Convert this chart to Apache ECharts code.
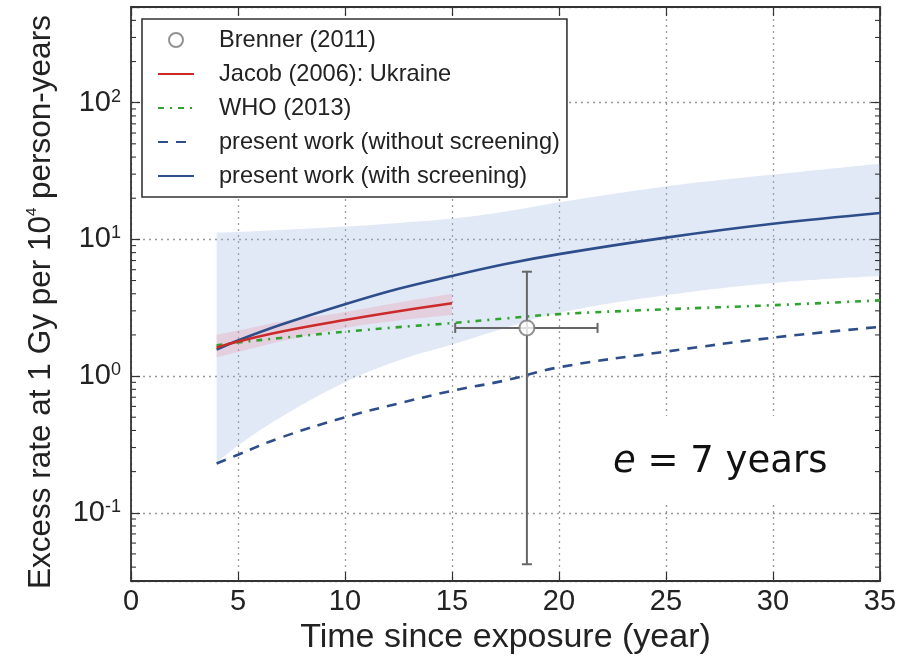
<!DOCTYPE html>
<html><head><meta charset="utf-8">
<script src="https://cdn.jsdelivr.net/npm/echarts@6/dist/echarts.min.js"></script>
<style>html,body{margin:0;padding:0;background:#fff}#c{width:910px;height:660px}</style>
</head><body><div id="c"></div>
<script>
const years = [4, 5, 7, 10, 12.5, 15, 17.5, 20, 25, 30, 35];
const withScreening = [1.56, 1.82, 2.37, 3.35, 4.35, 5.4, 6.6, 7.8, 10.3, 13.0, 15.6];
const withScreeningLo = [0.23, 0.31, 0.5, 0.9, 1.3, 1.7, 2.25, 2.9, 3.9, 4.8, 5.4];
const withScreeningHi = [11.2, 11.3, 11.7, 12.4, 13.2, 14.2, 16.0, 18.7, 24.4, 29.8, 35.8];
const withoutScreening = [0.229, 0.266, 0.355, 0.50, 0.63, 0.78, 0.93, 1.16, 1.51, 1.91, 2.29];
const who = [1.68, 1.76, 1.9, 2.11, 2.28, 2.44, 2.64, 2.84, 3.08, 3.30, 3.58];
const jacobYears = [4, 5, 7, 10, 12.5, 15];
const jacob = [1.62, 1.79, 2.11, 2.57, 2.98, 3.41];
const jacobLo = [1.37, 1.5, 1.8, 2.25, 2.55, 2.8];
const jacobHi = [2.0, 2.15, 2.5, 2.94, 3.45, 4.0];
const brenner = [18.5, 2.25];
const brennerX = [15.15, 21.8];
const brennerY = [0.042, 5.8];
const minorFactors = [2, 3, 4, 5, 6, 7, 8, 9];
const yMinLog = -1.5, yMaxLog = 2.7;

const L = Math.log10;
const pts = (xs, ys) => xs.map((x, i) => [x, L(ys[i])]);
// band data: [logValue, x] so that stacking happens on the value dimension
const bandLo = (xs, lo) => xs.map((x, i) => [L(lo[i]), x]);
const bandDiff = (xs, lo, hi) => xs.map((x, i) => [L(hi[i]) - L(lo[i]), x]);

const minorTicks = [];
for (let d = -2; d <= 2; d++) for (const k of minorFactors) {
  const v = L(k) + d;
  if (v > yMinLog && v < yMaxLog) minorTicks.push([0, v]);
}

const FONT = 'Liberation Sans, Arial, sans-serif';
const axisCommon = {
  axisLine: {show: true, onZero: false, lineStyle: {color: '#333', width: 1.8}},
  axisTick: {show: true, inside: true, length: 9, lineStyle: {color: '#333', width: 1.2}},
};
const gridLine = {show: true, lineStyle: {type: [2, 4], color: '#999', width: 1.3}};
const hideSym = {color: 'transparent', borderColor: 'transparent', opacity: 0};
const SM = 0.4;

const chart = echarts.init(document.getElementById('c'));
chart.setOption({
  animation: false,
  backgroundColor: '#fff',
  grid: {left: 131, right: 30, top: 7, bottom: 69, containLabel: false},
  xAxis: [{
    type: 'value', min: 0, max: 35, interval: 5, position: 'bottom',
    ...axisCommon,
    axisLabel: {fontSize: 29, color: '#222', fontFamily: FONT, margin: 6},
    splitLine: gridLine,
    name: 'Time since exposure (year)', nameLocation: 'middle', nameGap: 29,
    nameTextStyle: {fontSize: 34, color: '#222', fontFamily: FONT}
  }, {
    type: 'value', min: 0, max: 35, interval: 5, position: 'top',
    ...axisCommon, axisLabel: {show: false}, splitLine: {show: false}
  }],
  yAxis: [{
    type: 'value', min: yMinLog, max: yMaxLog, position: 'left',
    ...axisCommon,
    splitLine: gridLine,
    axisLabel: {
      margin: 10, color: '#222', fontFamily: FONT,
      formatter: v => {
        const r = Math.round(v);
        if (Math.abs(v - r) > 1e-6) return '';
        return '{b|10}{s|' + r + '}';
      },
      rich: {
        b: {fontSize: 29, fontFamily: FONT, color: '#222', lineHeight: 30},
        s: {fontSize: 18, fontFamily: FONT, color: '#222', verticalAlign: 'top', lineHeight: 18}
      }
    },
    name: '{n|Excess rate at 1 Gy per 10}{s|4}{n| person-years}',
    nameLocation: 'middle', nameGap: 73, nameRotate: 90,
    nameTextStyle: {
      padding: [0, 16, 0, 0],
      rich: {
        n: {fontSize: 31.5, fontFamily: FONT, color: '#222', lineHeight: 34},
        s: {fontSize: 15, fontFamily: FONT, color: '#222', verticalAlign: 'top', lineHeight: 15}
      }
    }
  }, {
    type: 'value', min: yMinLog, max: yMaxLog, position: 'right',
    ...axisCommon, axisLabel: {show: false}, splitLine: {show: false}
  }],
  legend: {
    orient: 'vertical', left: 142, top: 19,
    padding: [9, 7, 9, 15], itemGap: 10, itemWidth: 36, itemHeight: 14,
    backgroundColor: '#fff', borderColor: '#333', borderWidth: 1.6,
    textStyle: {fontSize: 23.6, color: '#222', fontFamily: FONT, lineHeight: 23, padding: [0, 0, 0, 20]},
    data: [
      {name: 'Brenner (2011)'},
      {name: 'Jacob (2006): Ukraine', itemStyle: hideSym},
      {name: 'WHO (2013)', itemStyle: hideSym},
      {name: 'present work (without screening)', itemStyle: hideSym},
      {name: 'present work (with screening)', itemStyle: hideSym}
    ]
  },
  series: [
    {type: 'line', name: 'bandLo', data: bandLo(years, withScreeningLo), encode: {x: 1, y: 0},
     stack: 'blue', stackStrategy: 'all', smooth: SM, symbol: 'none', lineStyle: {opacity: 0}, silent: true, z: 1},
    {type: 'line', name: 'bandHi', data: bandDiff(years, withScreeningLo, withScreeningHi), encode: {x: 1, y: 0},
     stack: 'blue', stackStrategy: 'all', smooth: SM, symbol: 'none', lineStyle: {opacity: 0},
     areaStyle: {color: 'rgba(158,182,225,0.3)', opacity: 1}, silent: true, z: 1},
    {type: 'line', name: 'jbandLo', data: bandLo(jacobYears, jacobLo), encode: {x: 1, y: 0},
     stack: 'red', stackStrategy: 'all', smooth: SM, symbol: 'none', lineStyle: {opacity: 0}, silent: true, z: 2},
    {type: 'line', name: 'jbandHi', data: bandDiff(jacobYears, jacobLo, jacobHi), encode: {x: 1, y: 0},
     stack: 'red', stackStrategy: 'all', smooth: SM, symbol: 'none', lineStyle: {opacity: 0},
     areaStyle: {color: 'rgba(235,130,150,0.25)', opacity: 1}, silent: true, z: 2},
    {type: 'line', name: 'present work (without screening)', data: pts(years, withoutScreening), smooth: SM,
     symbol: 'none', color: '#2d4e8a', lineStyle: {color: '#2d4e8a', width: 2.6, type: [10, 8]}, z: 3},
    {type: 'line', name: 'WHO (2013)', data: pts(years, who), smooth: SM,
     symbol: 'none', color: '#2ea32e', lineStyle: {color: '#2ea32e', width: 2.6, type: [6, 6, 2, 6]}, z: 3},
    {type: 'line', name: 'present work (with screening)', data: pts(years, withScreening), smooth: SM,
     symbol: 'none', color: '#2d4e8a', lineStyle: {color: '#2d4e8a', width: 2.6}, z: 4},
    {type: 'line', name: 'Jacob (2006): Ukraine', data: pts(jacobYears, jacob), smooth: SM,
     symbol: 'none', color: '#cc2a2a', lineStyle: {color: '#cc2a2a', width: 2.6}, z: 5},
    {type: 'custom', name: 'brennerErr', silent: true, z: 6,
     data: [[brenner[0], L(brenner[1]), brennerX[0], brennerX[1], L(brennerY[0]), L(brennerY[1])]],
     encode: {x: [0, 2, 3], y: [1, 4, 5]},
     renderItem: (params, api) => {
       const l = api.coord([api.value(2), api.value(1)]);
       const r = api.coord([api.value(3), api.value(1)]);
       const b = api.coord([api.value(0), api.value(4)]);
       const t = api.coord([api.value(0), api.value(5)]);
       const st = {stroke: '#666', lineWidth: 2};
       const c = 5;
       return {type: 'group', children: [
         {type: 'line', shape: {x1: l[0], y1: l[1], x2: r[0], y2: r[1]}, style: st},
         {type: 'line', shape: {x1: b[0], y1: b[1], x2: t[0], y2: t[1]}, style: st},
         {type: 'line', shape: {x1: l[0], y1: l[1] - c, x2: l[0], y2: l[1] + c}, style: st},
         {type: 'line', shape: {x1: r[0], y1: r[1] - c, x2: r[0], y2: r[1] + c}, style: st},
         {type: 'line', shape: {x1: b[0] - c, y1: b[1], x2: b[0] + c, y2: b[1]}, style: st},
         {type: 'line', shape: {x1: t[0] - c, y1: t[1], x2: t[0] + c, y2: t[1]}, style: st}
       ]};
     }},
    {type: 'scatter', name: 'Brenner (2011)', data: [[brenner[0], L(brenner[1])]],
     symbol: 'circle', symbolSize: 15, z: 7,
     itemStyle: {color: '#fff', borderColor: '#777', borderWidth: 2}},
    {type: 'custom', name: 'minorTicks', silent: true, z: 8,
     data: minorTicks, encode: {x: 0, y: 1},
     renderItem: (params, api) => {
       const p = api.coord([0, api.value(1)]);
       const cs = params.coordSys;
       const st = {stroke: '#333', lineWidth: 1.1};
       return {type: 'group', children: [
         {type: 'line', shape: {x1: cs.x, y1: p[1], x2: cs.x + 5, y2: p[1]}, style: st},
         {type: 'line', shape: {x1: cs.x + cs.width, y1: p[1], x2: cs.x + cs.width - 5, y2: p[1]}, style: st}
       ]};
     }}
  ],
  graphic: [
    {type: 'rect', shape: {x: 600, y: 416, width: 245, height: 86}, style: {fill: '#fff'}, z: 100},
    {type: 'text', x: 613, y: 462, z: 101,
     style: {text: '{i|e} = 7 years', fontSize: 37, fontFamily: 'DejaVu Sans', fill: '#111',
             verticalAlign: 'middle',
             rich: {i: {fontStyle: 'italic', fontSize: 37, fontFamily: 'DejaVu Sans', color: '#111'}}}}
  ]
});
</script></body></html>
